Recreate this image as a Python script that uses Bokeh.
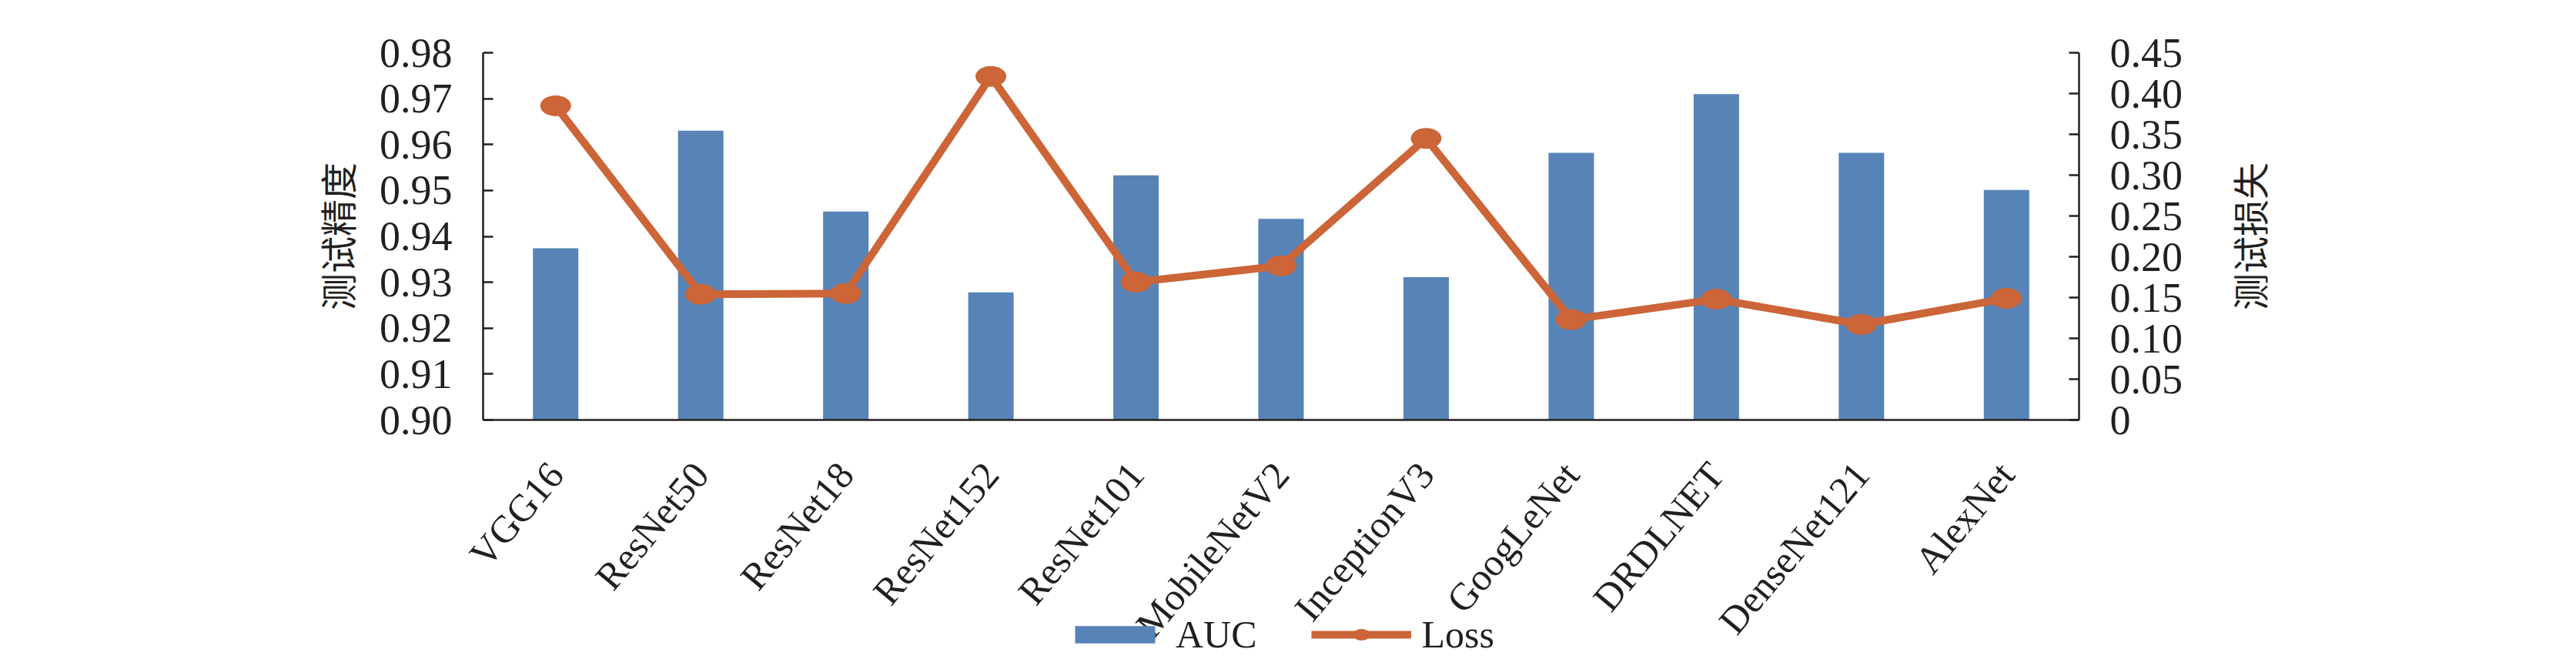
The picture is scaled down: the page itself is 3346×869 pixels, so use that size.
import math
from bokeh.plotting import figure
from bokeh.models import (Range1d, FactorRange, LinearAxis, FixedTicker, NumeralTickFormatter,
                          Legend, LegendItem, Label)
from bokeh.embed import file_html
from bokeh.resources import INLINE

models = ["VGG16", "ResNet50", "ResNet18", "ResNet152", "ResNet101", "MobileNetV2",
          "InceptionV3", "GoogLeNet", "DRDLNET", "DenseNet121", "AlexNet"]
auc = [0.9374, 0.9630, 0.9454, 0.9278, 0.9533, 0.9438, 0.9311, 0.9582, 0.9710, 0.9582, 0.9501]
loss = [0.385, 0.154, 0.155, 0.421, 0.169, 0.189, 0.345, 0.123, 0.148, 0.117, 0.149]
left_ticks = [0.90, 0.91, 0.92, 0.93, 0.94, 0.95, 0.96, 0.97, 0.98]
right_ticks = [0.0, 0.05, 0.10, 0.15, 0.20, 0.25, 0.30, 0.35, 0.40, 0.45]

BAR = "#5783B6"
LOSS = "#CC6538"
INK = "#231F20"
SERIF = "Liberation Serif"
CJK = "Noto Sans CJK SC"

# layout in figure pixels
W, H = 3330, 853
PL, PR = 627, 2700            # left / right edge of the value area
PT, PB = 68, 545              # top (0.98 / 0.45) and bottom (0.90 / 0) of the value area
EXT = 245                     # the frame reaches this far beyond the value area on each side
n = len(models)
cat_px = (PR - PL) / n

l0, l1 = left_ticks[0], left_ticks[-1]
r0, r1 = right_ticks[0], right_ticks[-1]
span = PB - PT

p = figure(width=W, height=H,
           x_range=FactorRange(*models, range_padding=2 * EXT / (PR - PL)),
           y_range=Range1d(l0 - (l1 - l0) * (H - PB) / span, l1 + (l1 - l0) * PT / span),
           output_backend="svg", toolbar_location=None,
           min_border_left=PL - EXT, min_border_right=W - PR - EXT,
           min_border_top=0, min_border_bottom=0)
p.extra_y_ranges = {"loss": Range1d(r0 - (r1 - r0) * (H - PB) / span, r1 + (r1 - r0) * PT / span)}
p.outline_line_color = None
p.xgrid.visible = False
p.ygrid.visible = False
p.background_fill_color = "white"
p.border_fill_color = "white"

bars = p.vbar(x=models, top=auc, bottom=l0, width=0.313, fill_color=BAR, line_color=None)
ln = p.line(x=models, y=loss, y_range_name="loss", line_color=LOSS, line_width=10, line_join="round")
mk = p.ellipse(x=models, y=loss, y_range_name="loss", width=40, height=27,
               width_units="screen", height_units="screen", fill_color=LOSS, line_color=None)

# x axis, pinned at the bottom of the value area
xa = p.xaxis[0]
xa.fixed_location = l0
xa.bounds = (0, n)
xa.major_tick_in = 0
xa.major_tick_out = 0
xa.axis_line_width = 2.5
xa.axis_line_color = INK
xa.major_label_orientation = math.radians(50)
xa.major_label_text_font = SERIF
xa.major_label_text_font_size = "50px"
xa.major_label_text_color = INK
xa.major_label_standoff = 62

def style_y(ax):
    ax.major_tick_in = 13
    ax.major_tick_out = 0
    ax.minor_tick_in = 0
    ax.minor_tick_out = 0
    ax.axis_line_width = 2.5
    ax.axis_line_color = INK
    ax.major_tick_line_width = 2.5
    ax.major_tick_line_color = INK
    ax.major_label_text_font = SERIF
    ax.major_label_text_font_size = "54px"
    ax.major_label_text_color = INK
    ax.major_label_standoff = 40

# left axis
ya = p.yaxis[0]
ya.fixed_location = 0
ya.bounds = (l0, l1)
ya.ticker = FixedTicker(ticks=left_ticks)
ya.formatter = NumeralTickFormatter(format="0.00")
style_y(ya)

# right axis
ra = LinearAxis(y_range_name="loss", ticker=FixedTicker(ticks=right_ticks),
                formatter=NumeralTickFormatter(format="0.00"), bounds=(r0, r1), fixed_location=n)
ra.major_label_overrides = {0: "0"}
style_y(ra)
p.add_layout(ra, "right")

# axis titles, both reading bottom-to-top
mid = (l0 + l1) / 2
for xpos, txt in ((-(PL - 436) / cat_px, "测试精度"), (n + (2920 - PR) / cat_px, "测试损失")):
    p.add_layout(Label(x=xpos, y=mid, text=txt, angle=math.pi / 2,
                       text_align="center", text_baseline="middle",
                       text_font=CJK, text_font_size="48px", text_color=INK))

legend = Legend(items=[LegendItem(label="AUC", renderers=[bars]),
                       LegendItem(label="Loss", renderers=[ln, mk])],
                orientation="horizontal", location=(1391 - 8 - (PL - EXT), 0),
                glyph_width=130, glyph_height=28, label_standoff=14, spacing=70,
                padding=0, margin=0, border_line_color=None, background_fill_alpha=0,
                label_text_font=SERIF, label_text_font_size="50px", label_text_color=INK)
p.add_layout(legend, "center")

open("out.html", "w").write(file_html(p, INLINE))
